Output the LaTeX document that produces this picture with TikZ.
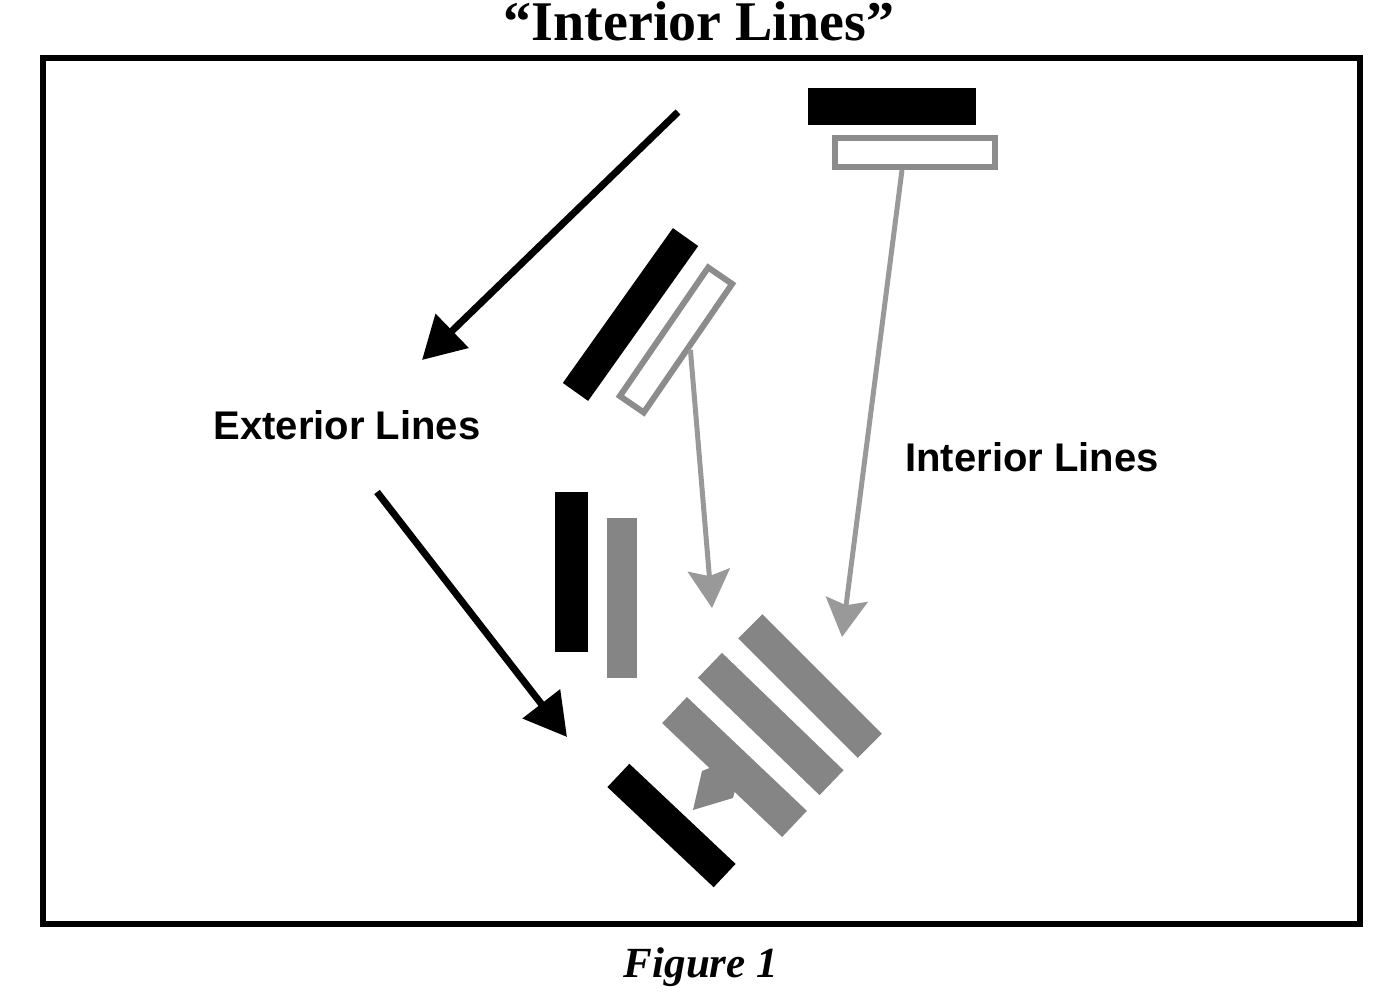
\documentclass[tikz,border=0pt]{standalone}
\usepackage{fontspec}
\setmainfont{Liberation Serif}
\setsansfont{Liberation Sans}
\usepackage{tikz}
\usetikzlibrary{arrows.meta, positioning, calc}

\begin{document}
\begin{tikzpicture}[x=0.5pt, y=-0.5pt,
		blackbar/.style={fill=black, inner sep=0pt},
		graybar/.style={fill=black!48, inner sep=0pt},
		hollowbar/.style={draw=black!45, line width=3pt, fill=white, inner sep=0pt},
		exarrow/.style={line width=3.5pt, -{Triangle[length=21pt, width=23pt]}},
		inarrow/.style={draw=black!40, line width=2.5pt, -{Stealth[length=19pt, width=21pt, inset=3pt]}},
		lbl/.style={font=\sffamily\bfseries\fontsize{20}{24}\selectfont}]
	\useasboundingbox (0,0) rectangle (1376,994);
	\node[font=\bfseries\fontsize{28}{32}\selectfont, anchor=base] (title) at (699,41) {“Interior Lines”};
	\draw[line width=3pt] (43,58) rectangle (1360,924);
	\node[font=\bfseries\itshape\fontsize{21.5}{24}\selectfont, anchor=base] (caption) at (701,977) {Figure 1};
	% bars
	\node[blackbar, minimum width=84pt, minimum height=18.5pt] (topbar) at (892,106.5) {};
	\node[hollowbar, minimum width=80pt, minimum height=14.5pt] (tophollow) at (915,152.5) {};
	\node[blackbar, minimum width=95pt, minimum height=15.5pt, rotate=54.6] (midbar) at (630.5,314.5) {};
	\node[hollowbar, minimum width=78pt, minimum height=14.5pt, rotate=55.5] (midhollow) at (676,340) {};
	\node[blackbar, minimum width=16.5pt, minimum height=80pt] (leftbar) at (571.5,572) {};
	\node[graybar, minimum width=15pt, minimum height=80pt] (leftgray) at (622,598) {};
	\node[blackbar, minimum width=73pt, minimum height=16pt, rotate=-43.3] (lowbar) at (671.5,825.5) {};
	\node[graybar, minimum width=84.5pt, minimum height=17pt, rotate=-45] (grayA) at (810,686) {};
	\node[graybar, minimum width=84.5pt, minimum height=17.3pt, rotate=-44] (grayB) at (770.75,724) {};
	\node[graybar, minimum width=82.7pt, minimum height=18pt, rotate=-43.5] (grayC) at (734.5,767) {};
	\fill[black!48] (712,767) -- (702,771) -- (693,810) -- (733,798) -- (735,790) -- cycle;
	% arrows
	\coordinate (exA1) at (678,112);
	\coordinate (exA2) at (422,360);
	\coordinate (exB1) at (377,492);
	\coordinate (exB2) at (567,737);
	\coordinate (inA) at (712,608);
	\coordinate (inB) at (842,637);
	\draw[exarrow] (exA1) -- (exA2);
	\draw[exarrow] (exB1) -- (exB2);
	\draw[inarrow] (midhollow.south) -- (inA);
	\draw[inarrow] ([xshift=-6.5pt]tophollow.south) -- (inB);
	\node[lbl] (exlabel) at (347,425) {Exterior Lines};
	\node[lbl] (inlabel) at (1032,457) {Interior Lines};
\end{tikzpicture}
\end{document}
